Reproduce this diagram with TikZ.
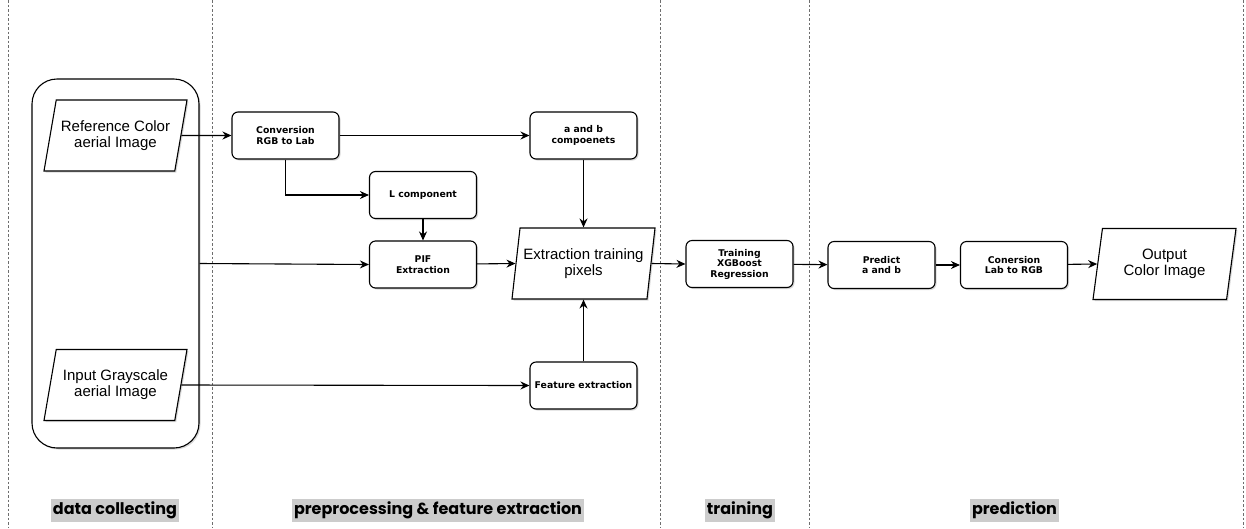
\documentclass[tikz,border=0pt]{standalone}
\usepackage{fontspec}
\setmainfont{Liberation Sans}
\newfontfamily\boxfont{DejaVu Sans}
\newfontfamily\stagefont{Poppins}
\usetikzlibrary{shapes.geometric,shadows,arrows.meta}
\definecolor{lanegray}{HTML}{6E6E6E}
\definecolor{stagegray}{HTML}{CCCCCC}
\tikzset{
  proc/.style={draw, fill=white, line width=1.1pt, rounded corners=6pt,
    minimum width=107pt, minimum height=47pt, align=center, inner sep=1pt,
    font=\boxfont\bfseries\fontsize{9.3}{10.5}\selectfont,
    drop shadow={shadow xshift=1.5pt, shadow yshift=-1.5pt, opacity=.3}},
  data/.style={trapezium, trapezium stretches body, draw, fill=white,
    line width=1.1pt, align=center, inner sep=0pt, minimum height=71pt,
    font=\fontsize{15}{16}\selectfont,
    drop shadow={shadow xshift=1.5pt, shadow yshift=-1.5pt, opacity=.3}},
  stage/.style={fill=stagegray, inner xsep=2pt, minimum height=23pt,
    font=\stagefont\bfseries\fontsize{16}{18}\selectfont},
  lane/.style={draw=lanegray, line width=.9pt, dash pattern=on 2.5pt off 2pt},
  flow/.style={-{Stealth[length=9pt,width=8pt]}, line width=1.1pt},
}

\begin{document}
\begin{tikzpicture}[x=1pt, y=-1pt]
	\useasboundingbox (0,0) rectangle (1246,528);
	% swim lanes
	\foreach \lx in {8.5,212.5,660.5,809.5,1243.5}
		\draw[lane] (\lx,0) -- (\lx,528);
	\node[stage] (S1) at (115,510.5) {data collecting};
	\node[stage] (S2) at (438,510.5) {preprocessing \& feature extraction};
	\node[stage] (S3) at (740,510.5) {training};
	\node[stage] (S4) at (1014.5,510.5) {prediction};
	% data collecting
	\node[draw, fill=white, line width=1.1pt, rounded corners=25pt,
		minimum width=167pt, minimum height=369pt,
		drop shadow={shadow xshift=1.5pt, shadow yshift=-1.5pt, opacity=.3}]
		(input) at (115.5,263.5) {};
	\node[data, trapezium left angle=67.8, trapezium right angle=112.2,
		minimum width=143pt] (refimg) at (115.5,135.5) {Reference Color\\aerial Image};
	\node[data, trapezium left angle=67.8, trapezium right angle=112.2,
		minimum width=143pt] (grayimg) at (115.5,385) {Input Grayscale\\aerial Image};
	% preprocessing
	\node[proc] (rgb2lab) at (285.5,135.5) {Conversion\\RGB to Lab};
	\node[proc] (Lcomp) at (423,195) {L component};
	\node[proc] (pif) at (423,264.5) {PIF\\Extraction};
	\node[proc] (abcomp) at (583.5,135.5) {a and b\\compoenets};
	\node[proc] (feat) at (583.5,385.5) {Feature extraction};
	\node[data, trapezium left angle=75, trapezium right angle=105,
		minimum width=143pt] (pixels) at (583.5,263.5) {Extraction training\\pixels};
	% training and prediction
	\node[proc] (xgb) at (739.5,264) {Training\\XGBoost\\Regression};
	\node[proc] (predict) at (881.5,265) {Predict\\a and b};
	\node[proc] (lab2rgb) at (1014,265) {Conersion\\Lab to RGB};
	\node[data, trapezium left angle=72.3, trapezium right angle=107.7,
		minimum width=143pt] (output) at (1164.5,264) {Output\\Color Image};
	\path[flow] (refimg) edge (rgb2lab)
		(rgb2lab) edge (abcomp)
		(Lcomp) edge (pif)
		(input.east) edge (pif.west)
		(pif) edge (pixels.west)
		(grayimg.east) edge (feat.west)
		(pixels.east) edge (xgb.west)
		(xgb) edge (predict)
		(predict) edge (lab2rgb)
		(lab2rgb) edge (output.west);
	\draw[flow] (rgb2lab.south) |- (Lcomp.west);
	\draw[flow] (abcomp.south) -- (abcomp.south |- pixels.north);
	\draw[flow] (feat.north) -- (feat.north |- pixels.south);
\end{tikzpicture}
\end{document}
